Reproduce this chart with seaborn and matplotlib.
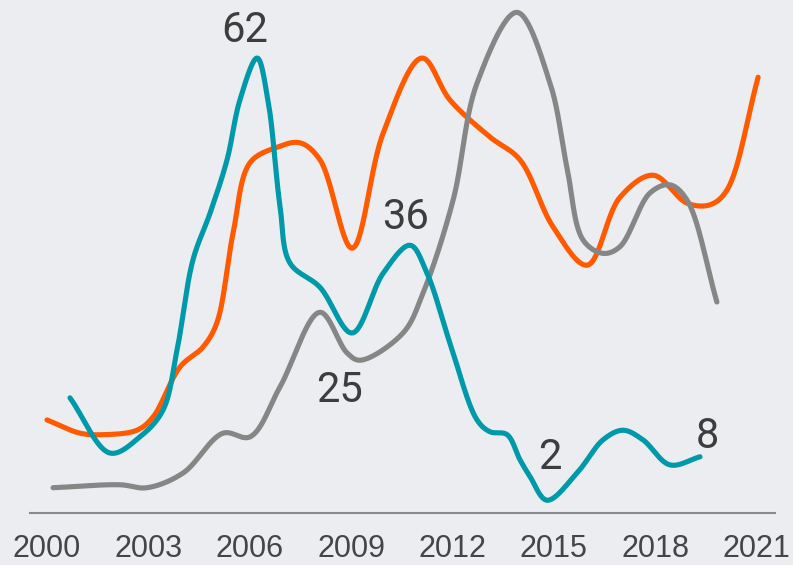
import numpy as np
import pandas as pd
import seaborn as sns
import matplotlib.pyplot as plt
from matplotlib import font_manager

# --- data (year, value) ---
teal_years = [2000.68, 2001.87, 2002.75, 2003.43, 2003.85, 2004.32, 2004.83, 2005.33, 2005.71,
              2006.22, 2006.54, 2006.90, 2007.19, 2008.08, 2009.03, 2009.95, 2010.75, 2011.25,
              2011.93, 2012.73, 2013.11, 2013.62, 2014.00, 2014.30, 2014.80, 2015.69, 2016.46,
              2017.05, 2017.64, 2018.44, 2019.33]
teal_values = [15.9, 8.4, 10.6, 14.2, 22.4, 34.6, 41.0, 48.2, 56.3,
               62.0, 56.3, 41.8, 34.2, 30.9, 24.7, 32.8, 36.6, 32.8,
               23.3, 12.9, 11.3, 10.9, 7.5, 5.2, 2.0, 5.7, 10.2,
               11.5, 10.2, 6.8, 7.9]

orange_years = [2000.00, 2000.98, 2001.66, 2002.66, 2003.14, 2003.94, 2004.62, 2005.03, 2005.51,
                2006.01, 2006.81, 2007.49, 2008.08, 2009.03, 2009.95, 2011.10, 2011.93, 2013.11,
                2014.00, 2014.98, 2015.99, 2016.96, 2017.94, 2018.95, 2019.63, 2020.13, 2021.05]
orange_values = [12.9, 11.1, 10.9, 11.5, 13.3, 20.1, 22.8, 26.1, 38.3,
                 47.8, 49.9, 50.5, 48.2, 36.2, 51.8, 62.0, 56.3, 51.3,
                 48.2, 39.1, 33.9, 43.1, 46.1, 42.3, 42.1, 44.1, 59.4]

gray_years = [2000.18, 2002.16, 2002.96, 2004.03, 2005.21, 2006.01, 2006.90, 2008.08, 2008.88,
              2009.27, 2010.54, 2011.13, 2012.02, 2012.73, 2013.91, 2014.89, 2015.39, 2015.87,
              2016.46, 2016.96, 2017.85, 2018.44, 2018.95, 2019.83]
gray_values = [3.7, 4.1, 3.7, 5.7, 11.1, 10.6, 17.4, 27.5, 22.0,
               21.0, 24.7, 30.1, 42.7, 58.6, 68.2, 58.6, 47.2, 37.3,
               35.5, 36.4, 43.7, 44.8, 42.7, 28.9]

tick_years = [2000, 2003, 2006, 2009, 2012, 2015, 2018, 2021]

# labels: (series, index of point, text)
labels = [("teal", 9, "62"), ("teal", 16, "36"), ("gray", 9, "25"),
          ("teal", 24, "2"), ("teal", 30, "8")]

colors = {"teal": "#0099a9", "orange": "#ff5a00", "gray": "#868686"}
bg = "#ecedf1"


def smooth(xs, ys, n=30, sx=33.8, sy=7.4):
    # centripetal catmull-rom through the read points (drawing only)
    P = np.column_stack([np.asarray(xs) * sx, np.asarray(ys) * sy])
    P = np.vstack([2 * P[0] - P[1], P, 2 * P[-1] - P[-2]])
    out = []
    for i in range(1, len(P) - 2):
        p0, p1, p2, p3 = P[i - 1], P[i], P[i + 1], P[i + 2]
        t0 = 0.0
        t1 = t0 + np.linalg.norm(p1 - p0) ** 0.5
        t2 = t1 + np.linalg.norm(p2 - p1) ** 0.5
        t3 = t2 + np.linalg.norm(p3 - p2) ** 0.5
        t = np.linspace(t1, t2, n, endpoint=False)[:, None]
        a1 = (t1 - t) / (t1 - t0) * p0 + (t - t0) / (t1 - t0) * p1
        a2 = (t2 - t) / (t2 - t1) * p1 + (t - t1) / (t2 - t1) * p2
        a3 = (t3 - t) / (t3 - t2) * p2 + (t - t2) / (t3 - t2) * p3
        b1 = (t2 - t) / (t2 - t0) * a1 + (t - t0) / (t2 - t0) * a2
        b2 = (t3 - t) / (t3 - t1) * a2 + (t - t1) / (t3 - t1) * a3
        c = (t2 - t) / (t2 - t1) * b1 + (t - t1) / (t2 - t1) * b2
        out.append(c)
    out.append(P[-2][None, :])
    res = np.vstack(out)
    return res[:, 0] / sx, res[:, 1] / sy


sns.set_theme(style="white")
plt.rcParams['font.family'] = ['Liberation Sans', 'DejaVu Sans']

names = {f.name for f in font_manager.fontManager.ttflist}
label_family = ['Liberation Sans Narrow', 'Roboto'] if 'Liberation Sans Narrow' in names else ['Roboto', 'Liberation Sans']

fig = plt.figure(figsize=(7.93, 5.65), dpi=100, facecolor=bg)
ax = fig.add_axes([30 / 793, 52 / 565, 745 / 793, 513 / 565])
ax.set_facecolor(bg)

series = {
    "orange": (orange_years, orange_values),
    "gray": (gray_years, gray_values),
    "teal": (teal_years, teal_values),
}
for name, (xs, ys) in series.items():
    cx, cy = smooth(xs, ys)
    df = pd.DataFrame({"year": cx, "value": cy})
    sns.lineplot(data=df, x="year", y="value", ax=ax, color=colors[name], linewidth=3.7,
                 estimator=None, sort=False, solid_capstyle="round")

offsets = {"62": (-12, 28), "36": (-5, 28), "25": (-21, -30), "2": (3, 43), "8": (7, 20)}
for name, idx, txt in labels:
    xs, ys = series[name]
    ax.annotate(txt, xy=(xs[idx], ys[idx]), xytext=offsets[txt], textcoords="offset pixels",
                ha="center", va="center", fontsize=30, color="#3d3d3d", family=label_family)

ax.set_xlim(1999.497, 2021.55)
ax.set_ylim(0.27, 69.88)
ax.set_xticks(tick_years)
ax.set_xticklabels([str(y) for y in tick_years])
ax.set_yticks([])
ax.set_xlabel("")
ax.set_ylabel("")
ax.tick_params(axis="x", length=0, pad=15, labelsize=22, labelcolor="#454545")
for s in ["left", "top", "right"]:
    ax.spines[s].set_visible(False)
ax.spines["bottom"].set_color("#8a8a8a")
ax.spines["bottom"].set_linewidth(1.5)

fig.savefig("out.png", dpi=100, facecolor=bg)
